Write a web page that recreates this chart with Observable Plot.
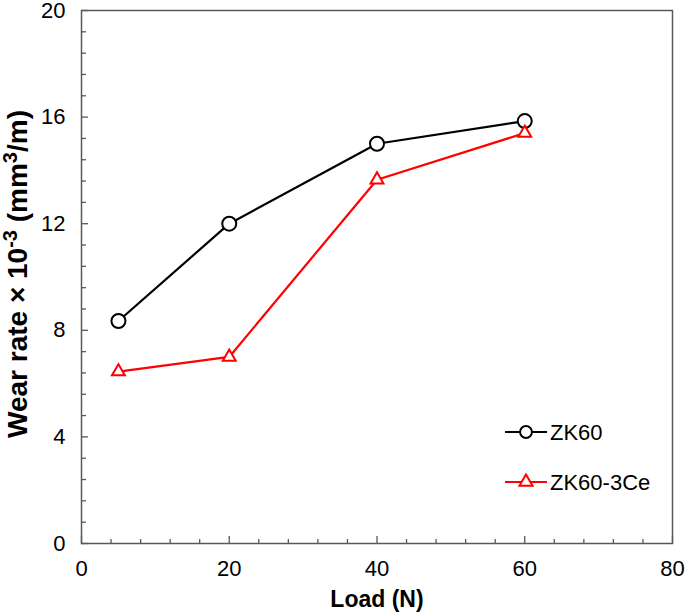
<!DOCTYPE html>
<html>
<head>
<meta charset="utf-8">
<script src="https://cdn.jsdelivr.net/npm/d3@7"></script>
<script src="https://cdn.jsdelivr.net/npm/@observablehq/plot@0.6"></script>
<style>
  html, body { margin: 0; padding: 0; background: #fff; }
  #chart { position: relative; width: 685px; height: 615px; }
</style>
</head>
<body>
<div id="chart"></div>
<script>
const loads = [5, 20, 40, 60];
const zk60 = [8.35, 12.0, 15.0, 15.85];
const zk60ce = [6.45, 7.0, 13.65, 15.4];
const seriesNames = ["ZK60", "ZK60-3Ce"];
const seriesColors = ["#000000", "#ff0000"];
const xMajor = [0, 20, 40, 60, 80];
const xMinor = [4, 8, 12, 16, 24, 28, 32, 36, 44, 48, 52, 56, 64, 68, 72, 76];
const yMajor = [0, 4, 8, 12, 16, 20];
const yMinor = [0.8, 1.6, 2.4, 3.2, 4.8, 5.6, 6.4, 7.2, 8.8, 9.6, 10.4, 11.2, 12.8, 13.6, 14.4, 15.2, 16.8, 17.6, 18.4, 19.2];
const xLabel = "Load (N)";

const rowsA = loads.map((l, i) => ({series: seriesNames[0], load: l, rate: zk60[i]}));
const rowsB = loads.map((l, i) => ({series: seriesNames[1], load: l, rate: zk60ce[i]}));
const rows = rowsA.concat(rowsB);
const axisColor = "#595959";
const FONT = "'Liberation Sans', Arial, sans-serif";

const plot = Plot.plot({
  width: 685,
  height: 615,
  marginLeft: 81,
  marginRight: 13,
  marginTop: 10,
  marginBottom: 72,
  x: {domain: [0, 80]},
  y: {domain: [0, 20]},
  color: {domain: seriesNames, range: seriesColors},
  style: {fontFamily: FONT, fontSize: "22px", background: "#fff", color: "#000", overflow: "visible"},
  marks: [
    Plot.axisX(xMinor, {tickSize: -4, tickFormat: () => "", stroke: axisColor, strokeWidth: 1.3, label: null}),
    Plot.axisX(xMajor, {tickSize: -7, tickPadding: 24, stroke: axisColor, strokeWidth: 1.3, label: null, fill: "#000"}),
    Plot.axisY(yMinor, {tickSize: -5, tickFormat: () => "", stroke: axisColor, strokeWidth: 1.3, label: null}),
    Plot.axisY(yMajor, {tickSize: -7, tickPadding: 23, stroke: axisColor, strokeWidth: 1.3, label: null, fill: "#000"}),
    Plot.frame({stroke: axisColor, strokeWidth: 1.5}),
    Plot.line(rows, {x: "load", y: "rate", z: "series", stroke: "series", strokeWidth: 2.2}),
    Plot.dot(rowsA, {x: "load", y: "rate", stroke: "series", symbol: "circle", fill: "#fff", r: 7, strokeWidth: 2}),
    Plot.dot(rowsB, {x: "load", y: "rate", stroke: "series", symbol: "triangle", fill: "#fff", r: 4.8, strokeWidth: 2})
  ]
});
document.getElementById("chart").appendChild(plot);

const svg = d3.select(plot);
// X axis label
svg.append("text")
  .attr("x", 377).attr("y", 607)
  .attr("text-anchor", "middle")
  .attr("font-family", FONT)
  .attr("font-weight", "bold").attr("font-size", 23)
  .attr("fill", "#000")
  .text(xLabel);
// Y axis label with superscripts
const yl = svg.append("text")
  .attr("transform", "translate(27,274) rotate(-90)")
  .attr("text-anchor", "middle")
  .attr("font-family", FONT)
  .attr("font-weight", "bold").attr("font-size", 28)
  .attr("fill", "#000");
yl.append("tspan").text("Wear rate \u00d7 10");
yl.append("tspan").attr("dy", -10).attr("font-size", 20).text("-3");
yl.append("tspan").attr("dy", 10).text(" (mm");
yl.append("tspan").attr("dy", -10).attr("font-size", 20).text("3");
yl.append("tspan").attr("dy", 10).text("/m)");

// Legend
const leg = svg.append("g").attr("font-family", FONT).attr("font-size", 22).attr("text-anchor", "start");
seriesNames.forEach((name, i) => {
  const cy = 432 + i * 50;
  const g = leg.append("g");
  g.append("line").attr("x1", 505).attr("x2", 547).attr("y1", cy).attr("y2", cy)
    .attr("stroke", seriesColors[i]).attr("stroke-width", 2.2);
  const sym = i === 0 ? d3.symbolCircle : d3.symbolTriangle;
  g.append("path").attr("d", d3.symbol(sym, i === 0 ? 110 : 75)())
    .attr("transform", `translate(526,${cy})`)
    .attr("fill", "#fff").attr("stroke", seriesColors[i]).attr("stroke-width", 2);
  g.append("text").attr("x", 550).attr("y", cy + 8).attr("fill", "#000").text(name);
});
</script>
</body>
</html>
